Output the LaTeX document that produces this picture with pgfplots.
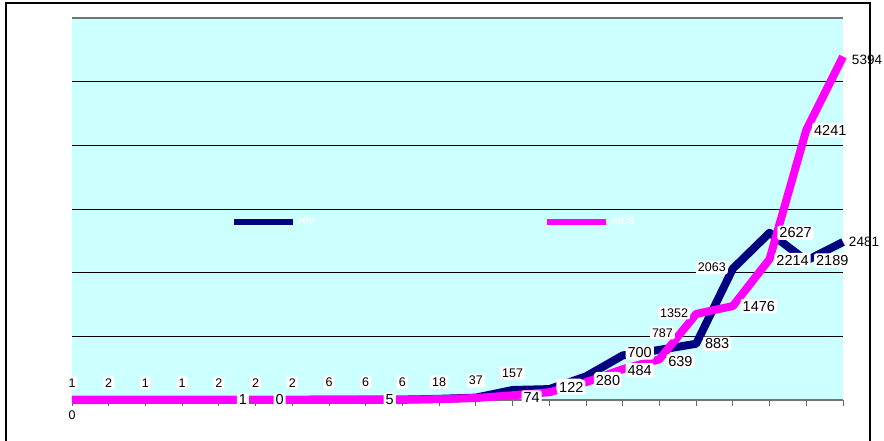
\documentclass[border=0pt]{standalone}
\usepackage{fontspec}
\setmainfont{Liberation Sans}
\usepackage{pgfplots}
\usepackage{pgfplotstable}
\pgfplotsset{compat=1.18}
\definecolor{bgc}{HTML}{CCFFFF}
\definecolor{hivc}{HTML}{000080}
\definecolor{aidsc}{HTML}{FF00FF}
\pgfplotstableread{
x y dx dy fs
0 1 0 17 12.5
1 2 0 17 12.5
2 1 0 17 12.5
3 1 0 17 12.5
4 2 0 17 12.5
5 2 0 17 12.5
6 2 0 17 12.5
7 6 0 17 12.5
8 6 0 17 12.5
9 6 0 17 12.5
10 18 0 17 12.5
11 37 0 17 12.5
12 157 0 17 12.5
13 171 20 4 13
14 371 22 -2 13
15 700 17 3 14.5
16 787 3 17 12.5
17 883 21 0 14.5
18 2063 -21 1 12.5
19 2627 26 0 14.5
20 2189 26 0 14.5
21 2481 21 0 13.5
}\hivtab
\pgfplotstableread{
x y dx dy fs
0 0 0 17 12.5
1 0 0 17 12.5
2 1 0 17 12.5
3 1 0 17 12.5
4 1 24 0 14.5
5 0 24 0 14.5
6 2 0 17 12.5
7 0 0 17 12.5
8 5 24 0 14.5
9 6 0 17 12.5
10 13 0 17 12.5
11 31 0 17 12.5
12 74 19 -2 14.5
13 122 22 5 14.5
14 280 22 2 14.5
15 484 17 -1 14.5
16 639 21 -2 14.5
17 1352 -22 1 12.5
18 1476 26 0 14.5
19 2214 23 -1 14.5
20 4241 24 0 14.5
21 5394 24 -3 13.5
}\aidstab
\pgfplotsset{
  lbl/.style={draw=none, no marks, forget plot, point meta=explicit symbolic,
    visualization depends on={\thisrow{dx} \as \dx},
    visualization depends on={\thisrow{dy} \as \dy},
    visualization depends on={\thisrow{fs} \as \fs},
    nodes near coords,
    every node near coord/.append style={anchor=center, xshift=\dx bp, yshift=\dy bp,
      fill=white, rounded corners=2bp, inner sep=2bp, text=black,
      font=\fontsize{\fs bp}{\fs bp}\selectfont}},
}
\begin{document}
\begin{tikzpicture}
\begin{axis}[
  scale only axis, width=771bp, height=382bp,
  at={(0,0)}, anchor=south west,
  xmin=0, xmax=21, ymin=0, ymax=6000,
  clip=false,
  axis background/.style={fill=bgc},
  axis x line*=bottom, axis y line*=left,
  x axis line style={draw=black!55, line width=1.5bp, -},
  y axis line style={draw=none},
  xtick={0,...,21}, xticklabels={0},
  xtick align=outside, major tick length=6bp,
  x tick style={draw=black!60, line width=1bp},
  y tick style={draw=none},
  xticklabel style={font=\fontsize{12.5bp}{12.5bp}\selectfont, yshift=-1bp},
  ytick={1000,2000,3000,4000,5000}, yticklabels={},
  ymajorgrids, grid style={black, line width=0.8bp},
  extra y ticks={6000}, extra y tick labels={},
  extra y tick style={grid style={black!55, line width=2bp}, tick style={draw=none}},
  legend style={at={(0.2062,0.466)}, anchor=west, draw=none, fill=none,
    inner sep=0pt, font=\fontsize{10bp}{10bp}\selectfont\bfseries\itshape,
    text=white, legend columns=2,
    /tikz/every even column/.append style={column sep=227bp}},
  legend image code/.code={\draw[#1,line width=6bp] (0bp,0bp) -- (59bp,0bp);},
]
\addplot[hivc, line width=8bp, line join=round, no marks] table[x=x,y=y] {\hivtab};
\addlegendentry{HIV}
\addplot[aidsc, line width=8bp, line join=round, no marks] table[x=x,y=y] {\aidstab};
\addlegendentry{AIDS}
\addplot[lbl, x filter/.expression={x>11.5 ? nan : x}] table[x=x,y=y,meta=y] {\aidstab};
\addplot[lbl] table[x=x,y=y,meta=y] {\hivtab};
\addplot[lbl, x filter/.expression={x<11.5 ? nan : x}] table[x=x,y=y,meta=y] {\aidstab};
\end{axis}
\draw[black, line width=1.5bp] (-66bp,-45bp) -- (-66bp,397bp) -- (798bp,397bp) -- (798bp,-45bp);
\pgfresetboundingbox
\useasboundingbox (-72bp,-41bp) rectangle (812bp,400bp);
\end{tikzpicture}
\end{document}
